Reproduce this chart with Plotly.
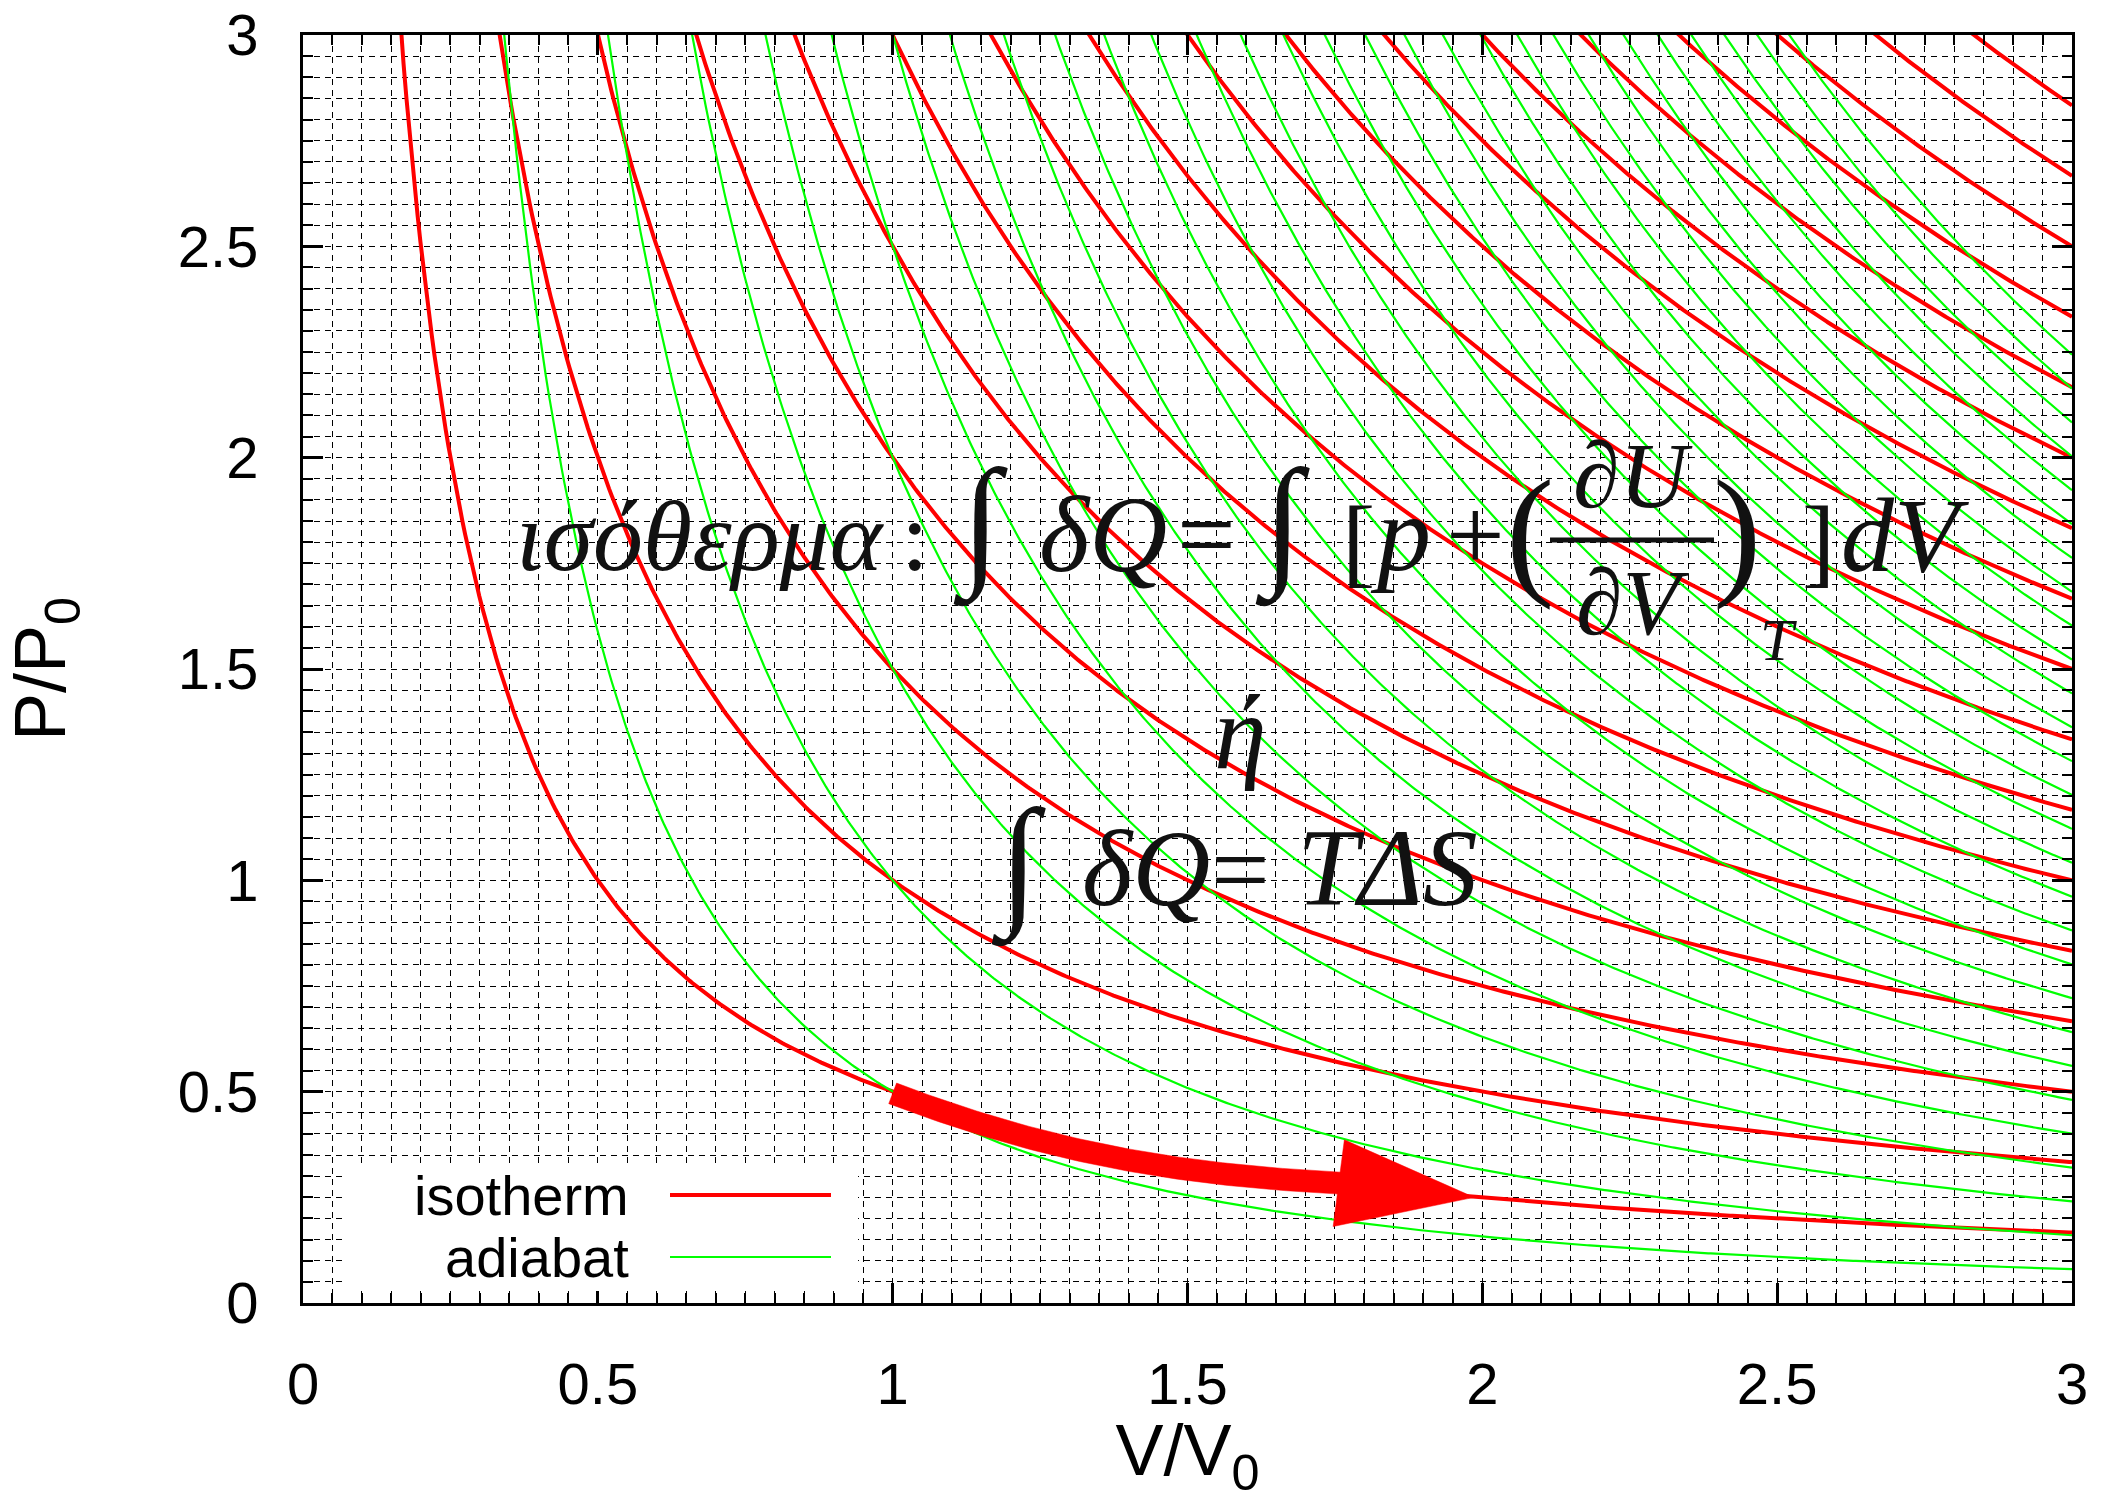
import numpy as np
import plotly.graph_objects as go

# ---------------- data ----------------
gamma = 5.0 / 3.0                      # adiabatic exponent  (P * V^gamma = k)
isotherm_levels = [0.5, 1.0, 1.5, 2.0, 2.5, 3.0, 3.5, 4.0, 4.5, 5.0,
                   5.5, 6.0, 6.5, 7.0, 7.5, 8.0, 8.5]          # P * V = c
adiabat_levels = [0.5, 1.0, 1.5, 2.0, 2.5, 3.0, 3.5, 4.0, 4.5, 5.0,
                  5.5, 6.0, 6.5, 7.0, 7.5, 8.0, 8.5, 9.0, 9.5, 10.0,
                  10.5, 11.0, 11.5, 12.0, 12.5, 13.0, 13.5, 14.0]

# thick red arrow: shaft = cubic Bezier control points, head = triangle (V/V0, P/P0)
arrow_shaft_v = [1.0, 1.286, 1.510, 1.765]
arrow_shaft_p = [0.496, 0.344, 0.302, 0.283]
arrow_head_v = [1.766, 1.747, 1.986, 1.766]
arrow_head_p = [0.386, 0.181, 0.250, 0.386]

RED = "#ff0000"
GREEN = "#00ff00"

# ---------------- layout geometry ----------------
W, H = 2101, 1501
ML, MR, MT, MB = 303, 29, 35, 198
PW, PH = W - ML - MR, H - MT - MB
XMAX, YMAX = 3.0, 3.0


def dx(px):
    return (px - ML) / PW * XMAX


def dy(py):
    return (MT + PH - py) / PH * YMAX


def to_px(v, p):
    return ML + np.asarray(v) / XMAX * PW, MT + PH - np.asarray(p) / YMAX * PH


fig = go.Figure()

# isotherms
for c in isotherm_levels:
    v = np.linspace(c / 3.3, 3.0, 600)
    fig.add_trace(go.Scatter(x=v, y=c / v, mode="lines",
                             line=dict(color=RED, width=4),
                             name="isotherm", legendgroup="iso",
                             showlegend=False, hoverinfo="skip"))
# adiabats
for k in adiabat_levels:
    v = np.linspace((k / 3.3) ** (1 / gamma), 3.0, 600)
    fig.add_trace(go.Scatter(x=v, y=k / v ** gamma, mode="lines",
                             line=dict(color=GREEN, width=2.2),
                             name="adiabat", legendgroup="adi",
                             showlegend=False, hoverinfo="skip"))

# arrow shaft as a filled band around a Bezier centre line
cx, cy = to_px(arrow_shaft_v, arrow_shaft_p)
t = np.linspace(0, 1, 80)[:, None]
ctrl = np.stack([cx, cy], axis=1)
B = ((1 - t) ** 3 * ctrl[0] + 3 * (1 - t) ** 2 * t * ctrl[1]
     + 3 * (1 - t) * t ** 2 * ctrl[2] + t ** 3 * ctrl[3])
dB = (3 * (1 - t) ** 2 * (ctrl[1] - ctrl[0]) + 6 * (1 - t) * t * (ctrl[2] - ctrl[1])
      + 3 * t ** 2 * (ctrl[3] - ctrl[2]))
nrm = np.stack([-dB[:, 1], dB[:, 0]], axis=1)
nrm /= np.linalg.norm(nrm, axis=1, keepdims=True)
half = 11.0
up = B + nrm * half
lo = B - nrm * half
poly = np.vstack([up, lo[::-1], up[:1]])
fig.add_trace(go.Scatter(x=dx(poly[:, 0]), y=dy(poly[:, 1]), mode="lines",
                         fill="toself", fillcolor=RED, line=dict(color=RED, width=0.5),
                         showlegend=False, hoverinfo="skip"))
fig.add_trace(go.Scatter(x=arrow_head_v, y=arrow_head_p, mode="lines",
                         fill="toself", fillcolor=RED,
                         line=dict(color=RED, width=0.5),
                         showlegend=False, hoverinfo="skip"))

# ---------------- axes ----------------
grid_dash = "6px,5px"
common_axis = dict(
    range=[0, 3], dtick=0.5, tick0=0,
    ticks="inside", ticklen=20, tickwidth=3, tickcolor="black",
    showline=True, linewidth=3, linecolor="black", mirror="allticks",
    showgrid=True, gridcolor="black", gridwidth=1.1, griddash=grid_dash,
    zeroline=False,
    tickfont=dict(family="Liberation Sans, Arial, sans-serif", size=58, color="black"),
    minor=dict(dtick=0.05, tick0=0, ticks="inside", ticklen=10, tickwidth=2,
               tickcolor="black", showgrid=True, gridcolor="black",
               gridwidth=1.1, griddash=grid_dash),
)
fig.update_xaxes(**common_axis, ticklabelstandoff=28,
                 title=dict(text="V/V<sub>0</sub>", standoff=40,
                            font=dict(family="Liberation Sans, Arial, sans-serif",
                                      size=72, color="black")))
fig.update_yaxes(**common_axis, ticklabelstandoff=30,
                 title=dict(text="P/P<sub>0</sub>", standoff=92,
                            font=dict(family="Liberation Sans, Arial, sans-serif",
                                      size=72, color="black")))

# ---------------- legend (gnuplot style: text right, sample left) ----------------
shapes = []
annotations = []
shapes.append(dict(type="rect", xref="x", yref="y",
                   x0=dx(343), x1=dx(858), y0=dy(1291), y1=dy(1163),
                   fillcolor="white", line=dict(width=0), layer="above"))
legend_items = [("isotherm", RED, 4, 1195), ("adiabat", GREEN, 2.2, 1257)]
LEG_FS = 56
for label, col, wd, ypx in legend_items:
    annotations.append(dict(text=label, xref="x", yref="y", x=dx(631), y=dy(ypx),
                            xanchor="right", yanchor="middle", showarrow=False,
                            font=dict(family="Liberation Sans, Arial, sans-serif",
                                      size=LEG_FS, color="black")))
    shapes.append(dict(type="line", xref="x", yref="y",
                       x0=dx(670), x1=dx(831), y0=dy(ypx), y1=dy(ypx),
                       line=dict(color=col, width=wd), layer="above"))

# ---------------- math text ----------------
SERIF = "Liberation Serif, Times New Roman, DejaVu Serif, serif"
ASC = 0.3375  # offset from baseline to text-box middle, in em


def math(text, xpx, anchor, baseline, size, italic=True):
    t = f"<i>{text}</i>" if italic else text
    annotations.append(dict(text=t, xref="x", yref="y",
                            x=dx(xpx), y=dy(baseline - ASC * size),
                            xanchor=anchor, yanchor="middle", showarrow=False,
                            font=dict(family=SERIF, size=size, color="#111111")))


# line 1
math("ισόθερμα", 514, "left", 570, 100)
math(":", 915, "center", 570, 100, italic=False)
math("∫", 980, "center", 572, 143)
math("δQ", 1037, "left", 571, 108)
math("=", 1206, "center", 570, 104, italic=False)
math("∫", 1282, "center", 572, 143)
math("[", 1358, "center", 575, 100, italic=False)
math("p", 1400, "center", 570, 108)
math("+", 1475, "center", 570, 104, italic=False)
math("(", 1530, "center", 579, 145, italic=False)
math("∂U", 1632, "center", 507, 94)
math("∂V", 1632, "center", 634, 94)
math(")", 1737, "center", 579, 145, italic=False)
math("T", 1778, "center", 660, 60)
math("]", 1818, "center", 575, 100, italic=False)
math("dV", 1839, "left", 571, 106)
shapes.append(dict(type="line", xref="x", yref="y",
                   x0=dx(1550), x1=dx(1714), y0=dy(540), y1=dy(540),
                   line=dict(color="#111111", width=5), layer="above"))
# line 2
math("ή", 1240, "center", 768, 106)
# line 3
math("∫", 1018, "center", 912, 143)
math("δQ", 1080, "left", 905, 108)
math("=", 1240, "center", 905, 104, italic=False)
math("TΔS", 1295, "left", 905, 110)

fig.update_layout(
    width=W, height=H,
    margin=dict(l=ML, r=MR, t=MT, b=MB, autoexpand=False),
    paper_bgcolor="white", plot_bgcolor="white",
    showlegend=False,
    shapes=shapes, annotations=annotations,
)

fig.write_html("out.html")
